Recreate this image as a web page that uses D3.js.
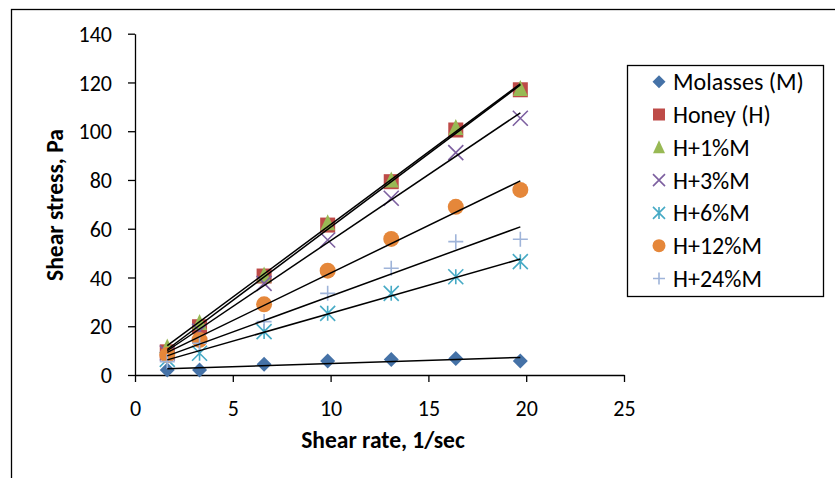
<!DOCTYPE html>
<html>
<head>
<meta charset="utf-8">
<script src="https://cdn.jsdelivr.net/npm/d3@7"></script>
<style>
  body { margin: 0; background: #fff; }
  svg text { font-family: Calibri, Carlito, "Open Sans", sans-serif; fill: #000; }
</style>
</head>
<body>
<div id="chart"></div>
<script>
// shear rate (1/sec)
const shearRate = [1.65, 3.3, 6.6, 9.85, 13.1, 16.4, 19.7];

const seriesNames = ['Molasses (M)', 'Honey (H)', 'H+1%M', 'H+3%M', 'H+6%M', 'H+12%M', 'H+24%M'];
const molasses = [2.0, 2.0, 4.4, 5.7, 6.4, 6.8, 5.7];
const honey = [9.5, 19.8, 40.6, 61.5, 79.3, 100.5, 117];
const h1 = [11.5, 21.5, 41, 62.5, 80, 101.5, 117.5];
const h3 = [9, 18, 37.6, 55.4, 72.5, 91.2, 105.3];
const h6 = [6.4, 8.9, 17.8, 25.3, 33.5, 40.3, 46.5];
const h12 = [8.2, 14.4, 29.0, 42.8, 55.8, 69.0, 75.9];
const h24 = [5.5, 13, 21.9, 33.5, 43.8, 54.7, 55.7];

const xTicks = [0, 5, 10, 15, 20, 25];
const yTicks = [0, 20, 40, 60, 80, 100, 120, 140];

const colors = ['#4572a7', '#be4b48', '#98b954', '#7d60a0', '#46aac5', '#e5873a', '#9fb4d9'];
const shapes = ['diamond', 'square', 'triangle', 'x', 'star', 'circle', 'plus'];
const values = [molasses, honey, h1, h3, h6, h12, h24];

const series = seriesNames.map((name, i) => ({
    name: name,
    color: colors[i],
    shape: shapes[i],
    points: shearRate.map((x, j) => ({x: x, y: values[i][j]}))
}));

const width = 835, height = 478;

const svg = d3.select('#chart').append('svg')
    .attr('width', width)
    .attr('height', height);

// outer chart frame
svg.append('rect')
    .attr('x', 11.5).attr('y', 9.5)
    .attr('width', 1000).attr('height', 1000)
    .attr('fill', 'none')
    .attr('stroke', '#000')
    .attr('stroke-width', 1.3);

const xScale = d3.scaleLinear().domain([0, 25]).range([135, 624]);
const yScale = d3.scaleLinear().domain([0, 140]).range([375, 33.7]);

const xAxis = svg.append('g')
    .attr('transform', `translate(0,${yScale(0)})`)
    .call(d3.axisBottom(xScale).tickValues(xTicks).tickSize(7).tickSizeOuter(0).tickPadding(18));

const yAxis = svg.append('g')
    .attr('transform', `translate(${xScale(0)},0)`)
    .call(d3.axisLeft(yScale).tickValues(yTicks).tickSize(7).tickSizeOuter(0).tickPadding(16));

[xAxis, yAxis].forEach(ax => {
    ax.select('.domain').attr('stroke', '#000').attr('stroke-width', 1.3);
    ax.selectAll('.tick line').attr('stroke', '#000').attr('stroke-width', 1.3);
    ax.selectAll('.tick text').attr('font-size', 22).attr('font-family', 'Calibri, Carlito, "Open Sans", sans-serif');
});
yAxis.selectAll('.tick text').attr('dy', '0.35em');

svg.append('text')
    .attr('x', 383).attr('y', 448)
    .attr('text-anchor', 'middle')
    .attr('font-size', 23.5)
    .attr('font-weight', 'bold')
    .text('Shear rate, 1/sec');

svg.append('text')
    .attr('transform', 'translate(63,205) rotate(-90)')
    .attr('text-anchor', 'middle')
    .attr('font-size', 23.5)
    .attr('font-weight', 'bold')
    .text('Shear stress, Pa');

function drawMarker(g, shape, color, s) {
    const h = s / 2;
    if (shape === 'diamond') {
        g.append('path').attr('d', `M0,${-h}L${h},0L0,${h}L${-h},0Z`).attr('fill', color);
    } else if (shape === 'square') {
        g.append('rect').attr('x', -h).attr('y', -h).attr('width', s).attr('height', s).attr('fill', color);
    } else if (shape === 'triangle') {
        g.append('path').attr('d', `M0,${-h - 1}L${h},${h}L${-h},${h}Z`).attr('fill', color);
    } else if (shape === 'circle') {
        g.append('circle').attr('r', h + 0.5).attr('fill', color);
    } else if (shape === 'x') {
        g.append('path').attr('d', `M${-h},${-h}L${h},${h}M${h},${-h}L${-h},${h}`)
            .attr('stroke', color).attr('stroke-width', 1.6).attr('fill', 'none');
    } else if (shape === 'plus') {
        g.append('path').attr('d', `M${-h},0L${h},0M0,${-h}L0,${h}`)
            .attr('stroke', color).attr('stroke-width', 1.6).attr('fill', 'none');
    } else if (shape === 'star') {
        g.append('path').attr('d', `M${-h},${-h}L${h},${h}M${h},${-h}L${-h},${h}M0,${-h}L0,${h}`)
            .attr('stroke', color).attr('stroke-width', 1.6).attr('fill', 'none');
    }
}

// markers
series.forEach(s => {
    svg.append('g').selectAll('g')
        .data(s.points)
        .join('g')
        .attr('transform', d => `translate(${xScale(d.x)},${yScale(d.y)})`)
        .each(function() { drawMarker(d3.select(this), s.shape, s.color, 15); });
});

// linear trendlines (least squares)
function fit(pts) {
    const mx = d3.mean(pts, d => d.x), my = d3.mean(pts, d => d.y);
    const sxy = d3.sum(pts, d => (d.x - mx) * (d.y - my));
    const sxx = d3.sum(pts, d => (d.x - mx) * (d.x - mx));
    const b = sxy / sxx;
    return x => my + b * (x - mx);
}
const line = d3.line().x(d => xScale(d.x)).y(d => yScale(d.y));
series.forEach(s => {
    const f = fit(s.points);
    const ends = d3.extent(s.points, d => d.x).map(x => ({x: x, y: f(x)}));
    svg.append('path')
        .attr('d', line(ends))
        .attr('fill', 'none')
        .attr('stroke', '#000')
        .attr('stroke-width', 1.5);
});

// legend
const legend = svg.append('g').attr('transform', 'translate(627,65)');
legend.append('rect')
    .attr('x', 0.5).attr('y', 0.5)
    .attr('width', 196).attr('height', 231)
    .attr('fill', '#fff')
    .attr('stroke', '#000')
    .attr('stroke-width', 1.3);

const items = legend.selectAll('.legend-item')
    .data(series)
    .join('g')
    .attr('class', 'legend-item')
    .attr('transform', (d, i) => `translate(32,${16.7 + i * 32.8})`);

items.each(function(d) { drawMarker(d3.select(this), d.shape, d.color, d.shape === 'diamond' ? 13 : 12); });

items.append('text')
    .attr('x', 14)
    .attr('dy', '0.35em')
    .attr('font-size', 24)
    .text(d => d.name);
</script>
</body>
</html>
